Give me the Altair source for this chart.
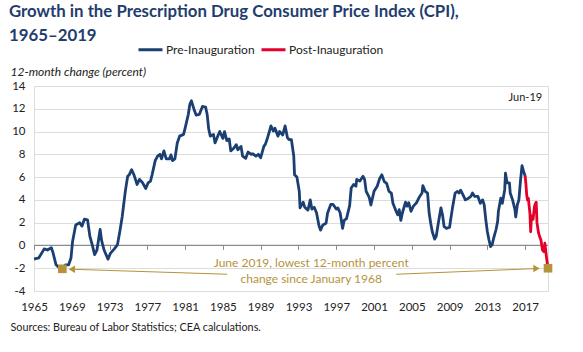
import altair as alt
import pandas as pd

FONT = "Lato"
NAVY = "#1B3F73"
RED = "#E4002B"
GOLD = "#B5933A"
TITLE_COLOR = "#1F3D6E"

# ---- data ----
pre_dates = [
    "1965-01", "1965-07", "1966-02", "1966-06", "1966-11", "1967-01", "1967-05", "1967-08",
    "1968-01", "1968-05", "1968-09", "1968-12", "1969-02", "1969-06", "1969-11", "1970-02",
    "1970-05", "1970-09", "1970-12", "1971-03", "1971-06", "1971-09", "1972-01", "1972-03",
    "1972-06", "1972-11", "1973-02", "1973-07", "1973-11", "1974-02", "1974-05", "1974-09",
    "1974-12", "1975-02", "1975-05", "1975-08", "1975-12", "1976-03", "1976-07", "1976-11",
    "1977-02", "1977-05", "1977-07", "1977-11", "1978-02", "1978-05", "1978-07", "1978-10",
    "1979-01", "1979-05", "1979-07", "1979-09", "1979-12", "1980-03", "1980-06", "1980-11",
    "1981-01", "1981-05", "1981-07", "1981-09", "1982-01", "1982-03", "1982-07", "1982-11",
    "1983-03", "1983-05", "1983-07", "1983-09", "1984-01", "1984-03", "1984-07", "1984-09",
    "1985-01", "1985-03", "1985-06", "1985-09", "1985-11", "1986-03", "1986-06", "1986-08",
    "1986-12", "1987-02", "1987-06", "1987-09", "1988-01", "1988-03", "1988-07", "1988-10",
    "1989-01", "1989-05", "1989-07", "1989-09", "1989-12", "1990-02", "1990-05", "1990-07",
    "1990-11", "1991-01", "1991-05", "1991-08", "1991-11", "1992-01", "1992-04", "1992-07",
    "1992-08", "1992-11", "1993-02", "1993-03", "1993-07", "1993-09", "1994-01", "1994-04",
    "1994-06", "1994-09", "1994-12", "1995-03", "1995-05", "1995-08", "1995-12", "1996-02",
    "1996-06", "1996-09", "1997-01", "1997-03", "1997-06", "1997-09", "1997-11", "1998-02",
    "1998-06", "1998-08", "1998-11", "1999-02", "1999-03", "1999-07", "1999-11", "2000-01",
    "2000-03", "2000-07", "2000-09", "2001-01", "2001-05", "2001-08", "2001-11", "2002-02",
    "2002-05", "2002-08", "2002-11", "2003-01", "2003-05", "2003-07", "2003-09", "2003-11",
    "2004-01", "2004-05", "2004-07", "2004-09", "2004-12", "2005-03", "2005-07", "2005-11",
    "2006-02", "2006-03", "2006-06", "2006-09", "2006-11", "2007-01", "2007-03", "2007-06",
    "2007-08", "2007-11", "2008-02", "2008-04", "2008-06", "2008-09", "2009-01", "2009-02",
    "2009-05", "2009-08", "2009-11", "2010-01", "2010-03", "2010-07", "2010-09", "2011-01",
    "2011-04", "2011-06", "2011-09", "2012-01", "2012-04", "2012-07", "2012-09", "2012-11",
    "2013-01", "2013-03", "2013-05", "2013-07", "2013-09", "2013-12", "2014-02", "2014-03",
    "2014-06", "2014-08", "2014-11", "2014-12", "2015-02", "2015-05", "2015-06", "2015-09",
    "2015-12", "2016-01", "2016-03", "2016-05", "2016-07", "2016-09", "2016-11", "2017-01",
]
pre_values = [
    -1.2, -1.1, -0.3, -0.4, -0.2, -0.6, -1.7, -1.9,
    -2.05, -1.7, -1.7, -1.1, 0.35, 1.8, 2.0, 1.7,
    2.3, 2.25, 0.8, 0.05, -0.8, -0.4, 1.4, 0.4,
    -0.4, -1.2, -0.7, -0.3, 0.05, 1.2, 2.5, 4.75,
    6.07, 6.2, 6.65, 6.2, 5.35, 5.8, 5.5, 5.0,
    5.5, 5.65, 6.2, 7.45, 7.85, 8.0, 7.6, 8.3,
    7.6, 7.6, 7.95, 7.45, 7.6, 9.0, 9.6, 9.75,
    10.3, 11.5, 12.4, 12.7, 11.8, 11.45, 11.5, 12.2,
    12.15, 11.5, 10.2, 9.6, 9.75, 9.0, 9.7, 10.0,
    9.4, 10.0, 9.2, 9.35, 8.3, 8.55, 8.85, 8.4,
    8.7, 7.85, 7.65, 8.2, 8.0, 8.05, 7.85, 8.0,
    7.7, 8.7, 8.9, 9.3, 10.0, 10.5, 10.05, 10.3,
    9.6, 10.0, 9.7, 10.5, 9.45, 9.3, 9.3, 7.85,
    6.2, 6.0, 4.75, 3.3, 3.8, 3.35, 3.1, 4.0,
    3.2, 3.35, 2.85, 1.75, 1.35, 1.8, 1.95, 2.85,
    3.6, 3.6, 3.2, 3.3, 2.85, 1.5, 2.2, 2.35,
    3.5, 5.05, 5.35, 5.2, 5.8, 5.65, 6.07, 5.8,
    4.75, 4.2, 3.55, 4.75, 5.2, 5.85, 6.2, 5.6,
    5.45, 4.75, 4.6, 3.7, 3.0, 2.7, 3.15, 2.2,
    2.85, 3.8, 3.45, 3.75, 3.0, 3.45, 3.75, 4.3,
    4.6, 5.25, 4.75, 4.6, 2.85, 1.95, 1.2, 0.55,
    0.8, 2.1, 3.3, 2.7, 1.65, 1.5, 1.6, 2.1,
    3.45, 4.6, 4.75, 4.6, 4.85, 4.3, 4.0, 4.15,
    4.3, 4.6, 4.3, 4.3, 3.7, 4.0, 3.55, 2.25,
    1.2, 0.5, -0.1, 0.05, 0.65, 1.4, 2.1, 3.0,
    4.15, 3.7, 4.9, 6.35, 5.5, 5.5, 4.6, 4.0,
    3.15, 2.5, 3.55, 4.0, 5.65, 7.0, 6.5, 6.1,
]
post_dates = [
    "2017-01", "2017-02", "2017-03", "2017-04", "2017-05", "2017-07", "2017-08", "2017-09",
    "2017-11", "2018-01", "2018-03", "2018-04", "2018-06", "2018-08", "2018-09", "2018-11",
    "2019-01", "2019-02", "2019-04", "2019-06",
]
post_values = [
    6.1, 5.35, 4.4, 4.0, 4.15, 2.85, 1.2, 2.6,
    2.3, 3.5, 3.8, 2.0, 1.1, 0.65, 0.5, -0.4,
    -0.55, 0.2, -1.0, -2.0,
]
series_names = ["Pre-Inauguration", "Post-Inauguration"]
series_colors = [NAVY, RED]

y_ticks = [-4, -2, 0, 2, 4, 6, 8, 10, 12, 14]
x_ticks = [1965, 1969, 1973, 1977, 1981, 1985, 1989, 1993, 1997, 2001, 2005, 2009, 2013, 2017]

# annotation data
marker_t = [1968.0, 2019.4167]
marker_v = [-2.05, -2.0]
arrow_start_t = [1985.45, 2003.35]
arrow_start_v = [-2.53, -2.53]
arrow_end_t = [1969.0, 2018.2]
arrow_end_v = [-2.09, -2.03]
arrow_shapes = ["triangle-left", "triangle-right"]
note_lines = ["June 2019, lowest 12-month percent", "change since January 1968"]
note_t = [1994.35, 1994.35]
note_v = [-1.91, -3.32]
corner_label = "Jun-19"
corner_t = [2018.8]
corner_v = [12.72]

title_lines = ["Growth in the Prescription Drug Consumer Price Index (CPI),", "1965\u20132019"]
y_title = "12-month change (percent)"
source_text = "Sources: Bureau of Labor Statistics; CEA calculations."


def to_year(d):
    y, m = d.split("-")
    return int(y) + (int(m) - 1) / 12.0


rows = [{"t": to_year(d), "value": v, "series": series_names[0]} for d, v in zip(pre_dates, pre_values)]
rows += [{"t": to_year(d), "value": v, "series": series_names[1]} for d, v in zip(post_dates, post_values)]
df = pd.DataFrame(rows)

W, H = 514, 205
x_scale = alt.Scale(domain=[1965, 2019.4167], nice=False, zero=False)
y_scale = alt.Scale(domain=[-4, 14], nice=False, zero=False)
zero_offset = -H * 4 / 18.0

y_axis = alt.Axis(
    values=y_ticks, grid=True, gridColor="#DCDCDC", gridWidth=1.2, domain=False, ticks=False,
    labelPadding=9, labelFont=FONT, labelFontSize=11.5, labelColor="#222222",
    labelExpr="'' + datum.value", labelFlush=False,
    title=y_title, titleAngle=0, titleAlign="left", titleBaseline="alphabetic",
    titleX=-24, titleY=-11, titleFont=FONT, titleFontSize=12, titleFontStyle="italic",
    titleFontWeight="normal", titleColor="#222222",
)

x_label_axis = alt.Axis(
    values=x_ticks, format="d", grid=False, domain=False, ticks=False, orient="bottom",
    labelPadding=10, labelFont=FONT, labelFontSize=11.5, labelColor="#222222",
    labelOverlap=False, labelFlush=False,
    title=source_text, titleAngle=0, titleAlign="left", titleBaseline="alphabetic",
    titleX=-24, titleY=39, titleFont=FONT, titleFontSize=10.8, titleFontWeight="normal",
    titleColor="#222222",
)
x_tick_axis = alt.Axis(
    values=x_ticks, grid=False, domain=False, ticks=True, tickSize=4, tickColor="#8C8C8C",
    tickWidth=1, labels=False, title="", orient="bottom", offset=zero_offset,
)

zero_line = alt.Chart(df).mark_line(color="#8C8C8C", strokeWidth=1.3).encode(
    x=alt.X("t:Q", scale=x_scale, axis=x_tick_axis),
    y=alt.Y("zero:Q", scale=y_scale, axis=None),
).transform_calculate(zero="0")

lines = alt.Chart(df).mark_line(strokeWidth=2.8, strokeJoin="round").encode(
    x=alt.X("t:Q", scale=x_scale, axis=x_label_axis),
    y=alt.Y("value:Q", scale=y_scale, axis=y_axis),
    color=alt.Color(
        "series:N",
        scale=alt.Scale(domain=series_names, range=series_colors),
        legend=alt.Legend(
            orient="none", legendX=103, legendY=-50, direction="horizontal", title=None,
            symbolType="stroke", symbolStrokeWidth=3, symbolSize=576, padding=0,
            labelFont=FONT, labelFontSize=12, labelColor="#222222", labelOffset=2,
            columnPadding=0,
        ),
    ),
    order=alt.Order("t:Q"),
)

markers_df = pd.DataFrame({"t": marker_t, "value": marker_v})
markers = alt.Chart(markers_df).mark_square(size=75, color=GOLD, opacity=1).encode(
    x=alt.X("t:Q", scale=x_scale, axis=None),
    y=alt.Y("value:Q", scale=y_scale, axis=None),
)

arrows_df = pd.DataFrame({
    "t": arrow_start_t, "value": arrow_start_v, "t2": arrow_end_t, "value2": arrow_end_v,
    "shape": arrow_shapes,
})
arrow_lines = alt.Chart(arrows_df).mark_rule(color=GOLD, strokeWidth=1).encode(
    x=alt.X("t:Q", scale=x_scale, axis=None),
    y=alt.Y("value:Q", scale=y_scale, axis=None),
    x2="t2:Q", y2="value2:Q",
)
arrow_heads = alt.Chart(arrows_df).mark_point(filled=True, size=55, color=GOLD, opacity=1).encode(
    x=alt.X("t2:Q", scale=x_scale, axis=None),
    y=alt.Y("value2:Q", scale=y_scale, axis=None),
    shape=alt.Shape("shape:N", scale=None, legend=None),
)

note_df = pd.DataFrame({"t": note_t, "value": note_v, "text": note_lines})
note = alt.Chart(note_df).mark_text(
    font=FONT, fontSize=12, color=GOLD, align="center", baseline="alphabetic"
).encode(
    x=alt.X("t:Q", scale=x_scale, axis=None),
    y=alt.Y("value:Q", scale=y_scale, axis=None),
    text="text:N",
)

corner_df = pd.DataFrame({"t": corner_t, "value": corner_v, "text": [corner_label]})
corner = alt.Chart(corner_df).mark_text(
    font=FONT, fontSize=11, color="#222222", align="right", baseline="alphabetic"
).encode(
    x=alt.X("t:Q", scale=x_scale, axis=None),
    y=alt.Y("value:Q", scale=y_scale, axis=None),
    text="text:N",
)

chart = alt.layer(
    zero_line, lines, arrow_lines, arrow_heads, markers, note, corner
).resolve_axis(x="independent", y="independent").properties(
    width=W, height=H,
    padding={"left": 34, "top": 86, "right": 35, "bottom": 61},
    autosize=alt.AutoSizeParams(type="none"),
    title=alt.TitleParams(
        text=title_lines, anchor="start", frame="bounds", font=FONT, fontSize=16.8,
        fontWeight="bold", color=TITLE_COLOR, lineHeight=24.5, offset=-9, dx=-1,
    ),
).configure_view(strokeWidth=0).configure(background="white")

chart.save("out.html", embed_options={"renderer": "svg", "actions": False})
